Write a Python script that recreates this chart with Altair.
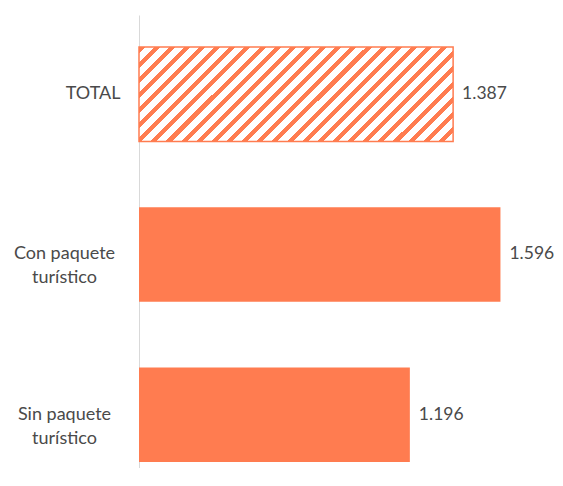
import altair as alt
import pandas as pd

categories = ["TOTAL", "Con paquete\nturístico", "Sin paquete\nturístico"]
values = [1387, 1596, 1196]
hatched = [True, False, False]

df = pd.DataFrame({"cat": categories, "value": values, "hatched": hatched})

CORAL = "#FF7C50"
TEXT = "#4a4a4a"
FONT = "Lato"

# diagonal hatch built as a striped linear gradient (style only)
N = 27
frac = 0.4
stops = []
for i in range(N):
    a = i / N
    b = (i + frac) / N
    c = (i + 1) / N
    stops += [
        {"offset": a, "color": CORAL},
        {"offset": b, "color": CORAL},
        {"offset": b, "color": "#FFFFFF"},
        {"offset": c, "color": "#FFFFFF"},
    ]
hatch = {"gradient": "linear", "x1": 0, "y1": 0, "x2": 1.193, "y2": 0.359, "stops": stops}

W, H = 385, 453
xscale = alt.Scale(domain=[0, 1700])
yscale = alt.Scale(paddingInner=0.411, paddingOuter=0.1184, align=0.842)

yaxis = alt.Axis(
    title=None,
    ticks=False,
    tickSize=0,
    grid=False,
    domainColor="#D9D9D9",
    domainWidth=1,
    labelFont=FONT,
    labelFontSize=18,
    labelColor=TEXT,
    labelLineHeight=24,
    labelBaseline="middle",
    labelAlign={"condition": {"test": "datum.value == 'TOTAL'", "value": "right"}, "value": "center"},
    labelPadding={"condition": {"test": "datum.value == 'TOTAL'", "value": 19}, "value": 75},
    labelExpr="split(datum.label, '\\n')",
)

base = alt.Chart(df).encode(
    y=alt.Y("cat:N", sort=categories, scale=yscale, axis=yaxis),
    x=alt.X("value:Q", scale=xscale, axis=None),
)

solid = base.transform_filter("!datum.hatched").mark_bar(color=CORAL)
hatch_bar = base.transform_filter("datum.hatched").mark_bar(
    fill=hatch, stroke=CORAL, strokeWidth=1.5
)
labels = base.transform_calculate(
    lbl="replace(format(datum.value, ',d'), ',', '.')"
).mark_text(align="left", baseline="middle", dx=9, font=FONT, fontSize=17.5, color=TEXT).encode(
    text="lbl:N"
)

chart = (
    alt.layer(hatch_bar, solid, labels)
    .properties(
        width=W,
        height=H,
        autosize=alt.AutoSizeParams(type="none"),
        padding={"left": 131, "top": 7, "right": 31, "bottom": 0},
    )
    .configure_view(stroke=None)
)

chart.save("out.html", embed_options={"renderer": "svg", "actions": False})
